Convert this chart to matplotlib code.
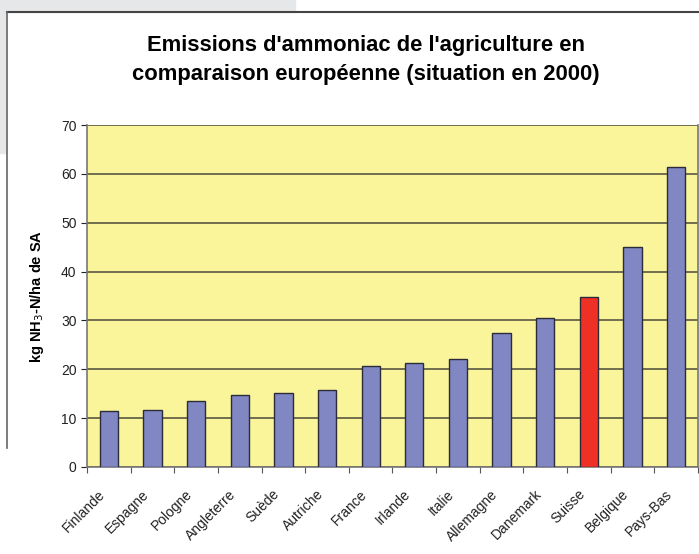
import matplotlib.pyplot as plt
import matplotlib.patches as mpatches
import matplotlib.transforms as mtransforms
from matplotlib.lines import Line2D
import numpy as np

plt.rcParams["font.family"] = ["Liberation Sans", "DejaVu Sans"]

countries = ["Finlande", "Espagne", "Pologne", "Angleterre", "Suède", "Autriche",
             "France", "Irlande", "Italie", "Allemagne", "Danemark", "Suisse",
             "Belgique", "Pays-Bas"]
values = [11.5, 11.7, 13.5, 14.7, 15.1, 15.8, 20.6, 21.3, 22.1, 27.4, 30.5, 34.7, 45.1, 61.5]
highlight = "Suisse"
yticks = [0, 10, 20, 30, 40, 50, 60, 70]

blue = "#8087C3"
red = "#EE3124"
colors = [red if c == highlight else blue for c in countries]

fig = plt.figure(figsize=(6.99, 5.54), dpi=100)
fig.patch.set_facecolor("white")

# bits of the screenshot around the chart
fig.patches.append(mpatches.Rectangle((0, 1 - 12 / 554), 295 / 699, 12 / 554,
                                      transform=fig.transFigure, color="#E6E7E9", zorder=0))
fig.patches.append(mpatches.Rectangle((0, 1 - 153 / 554), 6 / 699, 153 / 554,
                                      transform=fig.transFigure, color="#E6E7E9", zorder=0))
fig.lines.append(Line2D([7 / 699, 1], [1 - 12 / 554, 1 - 12 / 554],
                        transform=fig.transFigure, color="#444444", lw=1.5))
fig.lines.append(Line2D([7 / 699, 7 / 699], [1 - 12 / 554, 1 - 448 / 554],
                        transform=fig.transFigure, color="#666666", lw=1.2))

ax = fig.add_axes([87 / 699, 87 / 554, 611 / 699, 342 / 554])
ax.set_facecolor("#FAF49A")
x = np.arange(len(countries))
ax.bar(x, values, width=0.42, color=colors, edgecolor="#2B2B3A", linewidth=1.0, zorder=3)

ax.set_xlim(-0.5, len(countries) - 0.5)
ax.set_ylim(0, 70)
ax.set_yticks(yticks)
ax.yaxis.grid(True, color="#4A4A3A", linewidth=1.1, zorder=1)
ax.set_axisbelow(True)

# category labels placed by hand so their ends sit just left of each bar
ax.set_xticks(np.arange(len(countries) + 1) - 0.5)
ax.set_xticklabels([])
ax.tick_params(axis="x", length=4, color="#555555", direction="out")
shift = mtransforms.ScaledTranslation(-6 / 100, -25 / 100, fig.dpi_scale_trans)
for i, name in enumerate(countries):
    ax.text(i, 0, name, transform=ax.get_xaxis_transform() + shift,
            rotation=45, ha="right", va="center", rotation_mode="anchor",
            fontsize=10, color="#222222")

ax.tick_params(axis="y", labelsize=10, colors="#222222", length=4, direction="out")
for t in ax.get_yticklabels():
    t.set_color("#222222")

for s in ["left", "bottom", "right"]:
    ax.spines[s].set_color("#777777")
    ax.spines[s].set_linewidth(1.2)
ax.spines["top"].set_visible(False)

ax.set_ylabel("kg NH$_3$-N/ha de SA", fontsize=10.5, fontweight="bold", labelpad=11)

fig.text(366 / 699, 1 - 60 / 554,
         "Emissions d'ammoniac de l'agriculture en\ncomparaison européenne (situation en 2000)",
         ha="center", va="center", fontsize=15.8, fontweight="bold", linespacing=1.45)

fig.savefig("out.png", dpi=100)
